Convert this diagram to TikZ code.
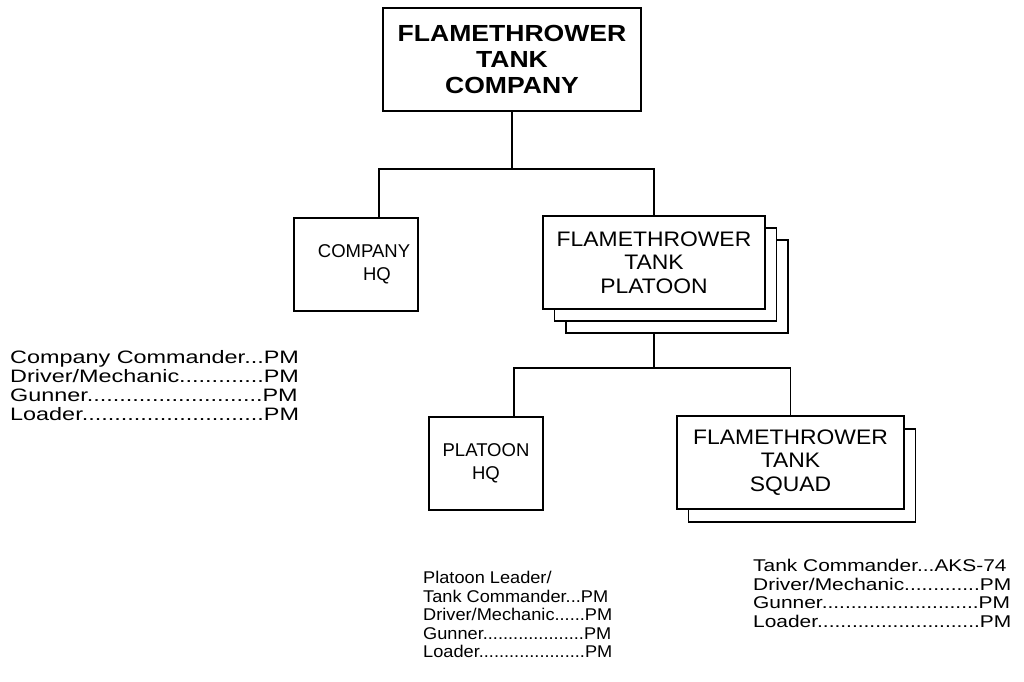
\documentclass[tikz,border=0pt]{standalone}
\usepackage{fontspec}
\setmainfont{Liberation Sans}
\newfontfamily\boxfont{Liberation Sans}[FakeStretch=1.09]
\newfontfamily\topfont{Liberation Sans}[FakeStretch=1.14]
\newfontfamily\listfont{Liberation Sans}[FakeStretch=1.30]
\newfontfamily\sqdfont{Liberation Sans}[FakeStretch=1.23]
\newfontfamily\pltfont{Liberation Sans}[FakeStretch=1.07]
\usepackage{tikz}
\usetikzlibrary{positioning, calc}
\tikzset{
    unitbox/.style={rectangle, draw, fill=white, line width=1.6pt, align=center, inner sep=0pt, font=\boxfont\fontsize{21}{23.5}\selectfont},
    hqbox/.style={unitbox, font=\fontsize{18.5}{23.5}\selectfont},
    topbox/.style={unitbox, font=\topfont\fontsize{23.3}{26}\selectfont\bfseries},
    backbox/.style={rectangle, draw, fill=white, line width=1.6pt, inner sep=0pt},
    roster/.style={anchor=north west, align=left, inner sep=0pt},
    link/.style={line width=1.6pt}
}

\begin{document}
\begin{tikzpicture}[x=1pt, y=-1pt]
            \useasboundingbox (0,0) rectangle (1024,681);

            % Company
            \node (company) [topbox, minimum width=258pt, minimum height=103pt] at (512,59.5) {FLAMETHROWER\\TANK\\COMPANY};

            % Level 1
            \node (hq) [hqbox, minimum width=124pt, minimum height=93pt] at (356,264.5) {\hspace*{16pt}COMPANY\\\hspace*{42pt}HQ};
            \node (platoonC) [backbox, minimum width=222pt, minimum height=93pt] at (677,286.5) {};
            \node (platoonB) [backbox, minimum width=222pt, minimum height=93pt] at (665.5,274.5) {};
            \node (platoon) [unitbox, minimum width=222pt, minimum height=93pt] at (654,262.5) {FLAMETHROWER\\TANK\\PLATOON};
            \coordinate (fork1) at (514,169);
            \draw [link] (company.south) -- (company.south |- fork1);
            \draw [link] ($(hq.north)+(23,0)$) |- (fork1) -| (platoon.north);

            % Level 2
            \node (plthq) [hqbox, minimum width=114pt, minimum height=93pt] at (486,463.5) {PLATOON\\HQ};
            \node (squadB) [backbox, minimum width=227pt, minimum height=93pt] at (802,475.5) {};
            \node (squad) [unitbox, minimum width=227pt, minimum height=93pt] at (790.5,462.5) {FLAMETHROWER\\TANK\\SQUAD};
            \coordinate (fork2) at (651,368);
            \draw [link] (platoon.south |- platoonC.south) -- (platoon.south |- fork2);
            \draw [link] ($(plthq.north)+(28,0)$) |- (fork2) -| (squad.north);

            % Personnel
            \node (hqcrew) [roster, font=\listfont\fontsize{18}{19}\selectfont] at (10,350) {Company Commander...PM\\Driver/Mechanic.............PM\\Gunner...........................PM\\Loader............................PM};
            \node (pltcrew) [roster, font=\pltfont\fontsize{17}{18.5}\selectfont] at (423,571) {Platoon Leader/\\Tank Commander...PM\\Driver/Mechanic......PM\\Gunner....................PM\\Loader.....................PM};
            \node (sqdcrew) [roster, font=\sqdfont\fontsize{17}{18.5}\selectfont] at (753,559) {Tank Commander...AKS-74\\Driver/Mechanic.............PM\\Gunner...........................PM\\Loader............................PM};
\end{tikzpicture}
\end{document}
